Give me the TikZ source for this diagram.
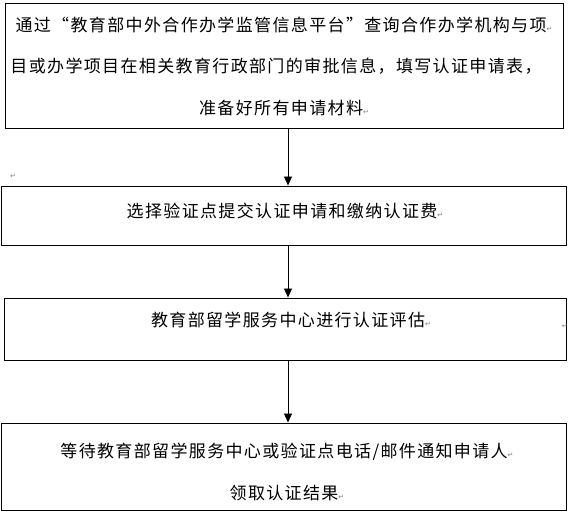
\documentclass[tikz,border=0pt]{standalone}
\usepackage{fontspec}
\usetikzlibrary{arrows.meta}
\newfontfamily\cjk[LetterSpace=8]{Noto Sans CJK SC}
\newfontfamily\symfont{DejaVu Sans}
\newcommand{\retmark}{{\symfont\fontsize{7}{7}\selectfont\textcolor{gray}{↵}}}

\begin{document}
\begin{tikzpicture}[x=1pt,y=-1pt,
		box/.style={draw, line width=0.9pt, inner sep=0pt},
		txt/.style={font=\cjk\fontsize{17}{41.5}\selectfont, align=center, inner sep=0pt},
		arr/.style={-{Triangle[width=8pt,length=9pt]}, line width=0.9pt}]
		\useasboundingbox (0,0) rectangle (568,518);

		\node[box, minimum width=558pt, minimum height=125pt] (b1) at (284,65.5) {};
		\node[box, minimum width=565pt, minimum height=59pt] (b2) at (283.5,215.5) {};
		\node[box, minimum width=562pt, minimum height=62pt] (b3) at (285,329) {};
		\node[box, minimum width=565pt, minimum height=87pt] (b4) at (283.5,466.5) {};

		\node[txt] (t1) at (284,66) {通过“教育部中外合作办学监管信息平台”查询合作办学机构与项\retmark\\
			目或办学项目在相关教育行政部门的审批信息，填写认证申请表，\hspace{16pt}\mbox{}\\
			准备好所有申请材料\retmark};
		\node[txt] (t2) at (285,211) {选择验证点提交认证申请和缴纳认证费\retmark};
		\node[txt] (t3) at (291,320) {教育部留学服务中心进行认证评估\retmark};
		\node[txt, font=\cjk\fontsize{17}{42}\selectfont] (t4) at (287,472) {等待教育部留学服务中心或验证点电话/邮件通知申请人\retmark\\
			领取认证结果\retmark};

		\node[inner sep=0pt] (r1) at (13,176) {\retmark};
		\node[inner sep=0pt, anchor=east] (r2) at (568,326) {\retmark};

		\draw[arr] ([xshift=4pt]b1.south) -- ([xshift=4pt]b1.south |- b2.north);
		\draw[arr] ([xshift=4.5pt]b2.south) -- ([xshift=4.5pt]b2.south |- b3.north);
		\draw[arr] ([xshift=3pt]b3.south) -- ([xshift=3pt]b3.south |- b4.north);
	\end{tikzpicture}
\end{document}
